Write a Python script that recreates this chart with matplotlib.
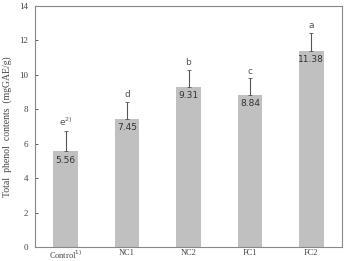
import matplotlib
matplotlib.use("Agg")
import matplotlib.pyplot as plt

groups = ["Control$^{1)}$", "NC1", "NC2", "FC1", "FC2"]
values = [5.56, 7.45, 9.31, 8.84, 11.38]
errors = [1.2, 1.0, 1.0, 0.95, 1.05]
letters = ["e$^{2)}$", "d", "b", "c", "a"]

plt.rcParams["font.family"] = ["Liberation Serif", "DejaVu Serif"]

fig = plt.figure(figsize=(3.45, 2.61), dpi=100)
ax = fig.add_axes([35 / 345, 14 / 261, 307 / 345, 241 / 261])

x = list(range(len(groups)))
ax.bar(x, values, width=0.4, color="#c0c0c0", zorder=2)
ax.errorbar(x, values, yerr=[[0] * len(errors), errors], fmt="none",
            ecolor="#555555", elinewidth=0.8, capsize=1.5, capthick=0.6, zorder=3)

for xi, v, e, lab in zip(x, values, errors, letters):
    ax.text(xi, v - 0.25, f"{v:.2f}", ha="center", va="top", fontsize=6.5,
            family="DejaVu Sans", color="#333333")
    ax.text(xi, v + e + 0.15, lab, ha="center", va="bottom", fontsize=6.5,
            family="DejaVu Sans", color="#555555")

ax.set_xlim(-0.5, 4.5)
ax.set_ylim(0, 14)
ax.set_yticks(range(0, 15, 2))
ax.set_xticks(x)
ax.set_xticklabels(groups, fontsize=6, color="#444444")
ax.tick_params(axis="y", direction="in", length=2, pad=5, labelsize=6.5, colors="#444444", width=0.6)
ax.tick_params(axis="x", length=0, pad=1.5)
for s in ax.spines.values():
    s.set_color("#888888")
    s.set_linewidth(0.8)
ax.set_ylabel("Total  phenol  contents  (mgGAE/g)", fontsize=7, color="#444444", labelpad=5)

fig.savefig("out.png", dpi=100)
